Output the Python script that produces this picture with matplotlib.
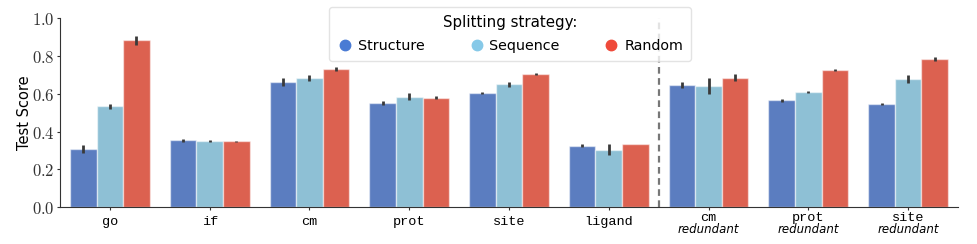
import numpy as np
import matplotlib.pyplot as plt
from matplotlib.lines import Line2D
from matplotlib import transforms

plt.rcParams['mathtext.fontset'] = 'cm'

# data
tasks = ["go", "if", "cm", "prot", "site", "ligand", "cm", "prot", "site"]
redundant = [False, False, False, False, False, False, True, True, True]
strategies = ["Structure", "Sequence", "Random"]

structure = [0.307, 0.353, 0.661, 0.553, 0.606, 0.325, 0.648, 0.565, 0.545]
sequence = [0.534, 0.348, 0.685, 0.585, 0.650, 0.304, 0.641, 0.610, 0.677]
random_ = [0.883, 0.348, 0.730, 0.580, 0.707, 0.332, 0.685, 0.725, 0.783]

structure_err = [0.020, 0.006, 0.020, 0.010, 0.006, 0.008, 0.017, 0.008, 0.007]
sequence_err = [0.012, 0.005, 0.015, 0.018, 0.012, 0.030, 0.040, 0.007, 0.020]
random_err = [0.025, 0.003, 0.010, 0.006, 0.005, 0.000, 0.018, 0.006, 0.010]

bar_colors = ["#5b7dc0", "#8ec0d5", "#dc6150"]
legend_colors = ["#4a7bd4", "#86c9e8", "#ef4a3a"]

values = [structure, sequence, random_]
errors = [structure_err, sequence_err, random_err]

fig = plt.figure(figsize=(9.77, 2.44), dpi=100)
ax = fig.add_axes([0.0614, 0.1516, 0.9192, 0.7734])

x = np.arange(len(tasks))
w = 0.8 / 3
for i in range(3):
    ax.bar(x + (i - 1) * w, values[i], w, color=bar_colors[i],
           edgecolor=(1, 1, 1, 0.5), linewidth=1.0, zorder=2)
    ax.errorbar(x + (i - 1) * w, values[i], yerr=errors[i], fmt='none',
                ecolor='#3a3a3a', elinewidth=2.0, capsize=0, zorder=3)

ax.axvline(5.5, color='#777777', linestyle='--', linewidth=1.6, dashes=(3, 2))

ax.set_xlim(-0.5, 8.5)
ax.set_ylim(0, 1.0)
yt = [0.0, 0.2, 0.4, 0.6, 0.8, 1.0]
ax.set_yticks(yt)
ax.set_yticklabels(["$%.1f$" % v for v in yt], fontsize=12, color='#333333')
ax.set_ylabel("Test Score", fontsize=10.5)
ax.yaxis.set_label_coords(-0.031, 0.5)
ax.spines['top'].set_visible(False)
ax.spines['right'].set_visible(False)
ax.spines['left'].set_color('#333333')
ax.spines['bottom'].set_color('#333333')
ax.tick_params(axis='both', length=2.5, pad=1.5, color='#333333')

ax.set_xticks(x)
ax.set_xticklabels([])
trans = transforms.blended_transform_factory(ax.transData, ax.transAxes)
for xi, name, red in zip(x, tasks, redundant):
    if red:
        ax.text(xi, -0.025, name, transform=trans, ha='center', va='top',
                fontsize=9.7, family='Liberation Mono')
        ax.text(xi, -0.085, "redundant", transform=trans, ha='center', va='top',
                fontsize=8.5, style='italic')
    else:
        ax.text(xi, -0.045, name, transform=trans, ha='center', va='top',
                fontsize=9.7, family='Liberation Mono')

handles = [Line2D([], [], marker='o', linestyle='none', markersize=7.5,
                  markerfacecolor=c, markeredgecolor=c) for c in legend_colors]
leg = ax.legend(handles, strategies, title="Splitting strategy:", ncol=3,
                loc='upper center', bbox_to_anchor=(0.501, 1.058),
                borderaxespad=0, fontsize=10.3, title_fontsize=10.8,
                handletextpad=0.3, handlelength=1.2, columnspacing=3.0,
                frameon=True, borderpad=0.55, labelspacing=0.6)
leg.get_frame().set_edgecolor('#dddddd')
leg.set_zorder(5)

fig.savefig("out.png", dpi=100)
